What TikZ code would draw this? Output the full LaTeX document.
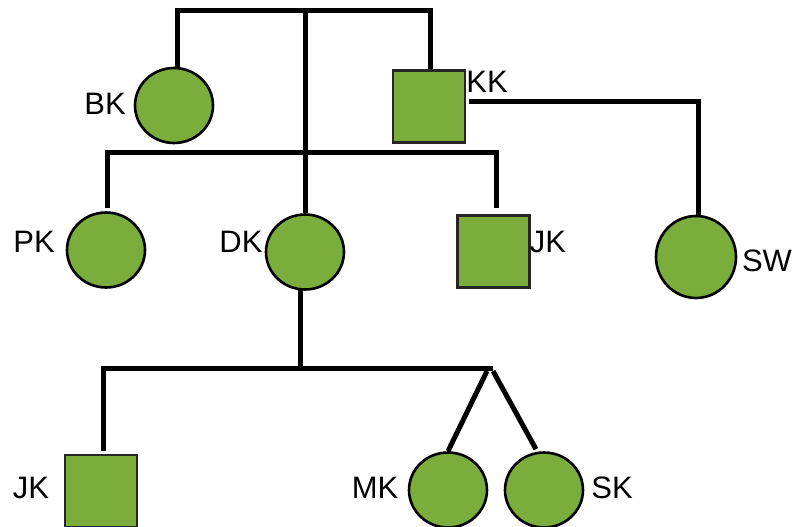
\documentclass[tikz,border=0pt]{standalone}
\usepackage{fontspec}
\setmainfont{Liberation Sans}
\usetikzlibrary{shapes.geometric}
\definecolor{pgreen}{HTML}{7AAD3C}
\begin{document}
\begin{tikzpicture}[x=1pt,y=-1pt,
  female/.style={ellipse,draw=black,line width=2.6pt,fill=pgreen,inner sep=0pt,minimum width=78pt,minimum height=75pt},
  male/.style={rectangle,draw=black!85,line width=2.4pt,fill=pgreen,inner sep=0pt,minimum width=72pt,minimum height=72pt},
  lbl/.style={font=\fontsize{31}{31}\selectfont,inner sep=0pt,anchor=center},
  conn/.style={line width=5pt,black}]
\useasboundingbox (0,0) rectangle (798,527);
% people
\node[female] (BK) at (174,105.5) {};
\node[male]   (KK) at (429,106.5) {};
\node[female] (PK) at (106,250) {};
\node[female] (DK) at (305,252) {};
\node[male]   (JKa) at (493.5,251.5) {};
\node[female,minimum width=80pt,minimum height=82pt] (SW) at (696,257) {};
\node[male]   (JKb) at (101,491) {};
\node[female] (MK) at (448,490) {};
\node[female] (SK) at (544,490) {};
% labels
\node[lbl] (tBK) at (105,104) {BK};
\node[lbl] (tKK) at (487,82) {KK};
\node[lbl] (tPK) at (34,242) {PK};
\node[lbl] (tDK) at (241,242) {DK};
\node[lbl] (tJKa) at (548,242) {JK};
\node[lbl] (tSW) at (767,261) {SW};
\node[lbl] (tJKb) at (31,488) {JK};
\node[lbl] (tMK) at (375,488) {MK};
\node[lbl] (tSK) at (612,488) {SK};
% coordinates
\coordinate (tl) at (177,11);
\coordinate (tr) at (430,11);
\coordinate (tm) at (305,11);
\coordinate (ml) at (107,152);
\coordinate (mr) at (496,152);
\coordinate (ks) at (698,101);
\coordinate (bm) at (300,368);
\coordinate (bl) at (103,368);
\coordinate (br) at (493,368);
\coordinate (tw) at (490,371);
% connectors
\draw[conn] (BK.north -| tl) -- (tl) -- (tr) -- (KK.north -| tr);
\draw[conn] (tm) -- (DK.north);
\draw[conn] ([yshift=3]PK.north -| ml) -- (ml) -- (mr) -- ([yshift=6]JKa.north -| mr);
\draw[conn] ([xshift=3]KK.east |- ks) -- (ks) -- (SW.north -| ks);
\draw[conn] ([yshift=3]DK.south -| bm) -- (bm);
\draw[conn] ([yshift=3]JKb.north -| bl) -- (bl) -- (br);
\draw[conn] ([xshift=-3]tw) -- (MK.north);
\draw[conn] ([xshift=3]tw) -- ([yshift=2,xshift=-8]SK.north);
\end{tikzpicture}
\end{document}
